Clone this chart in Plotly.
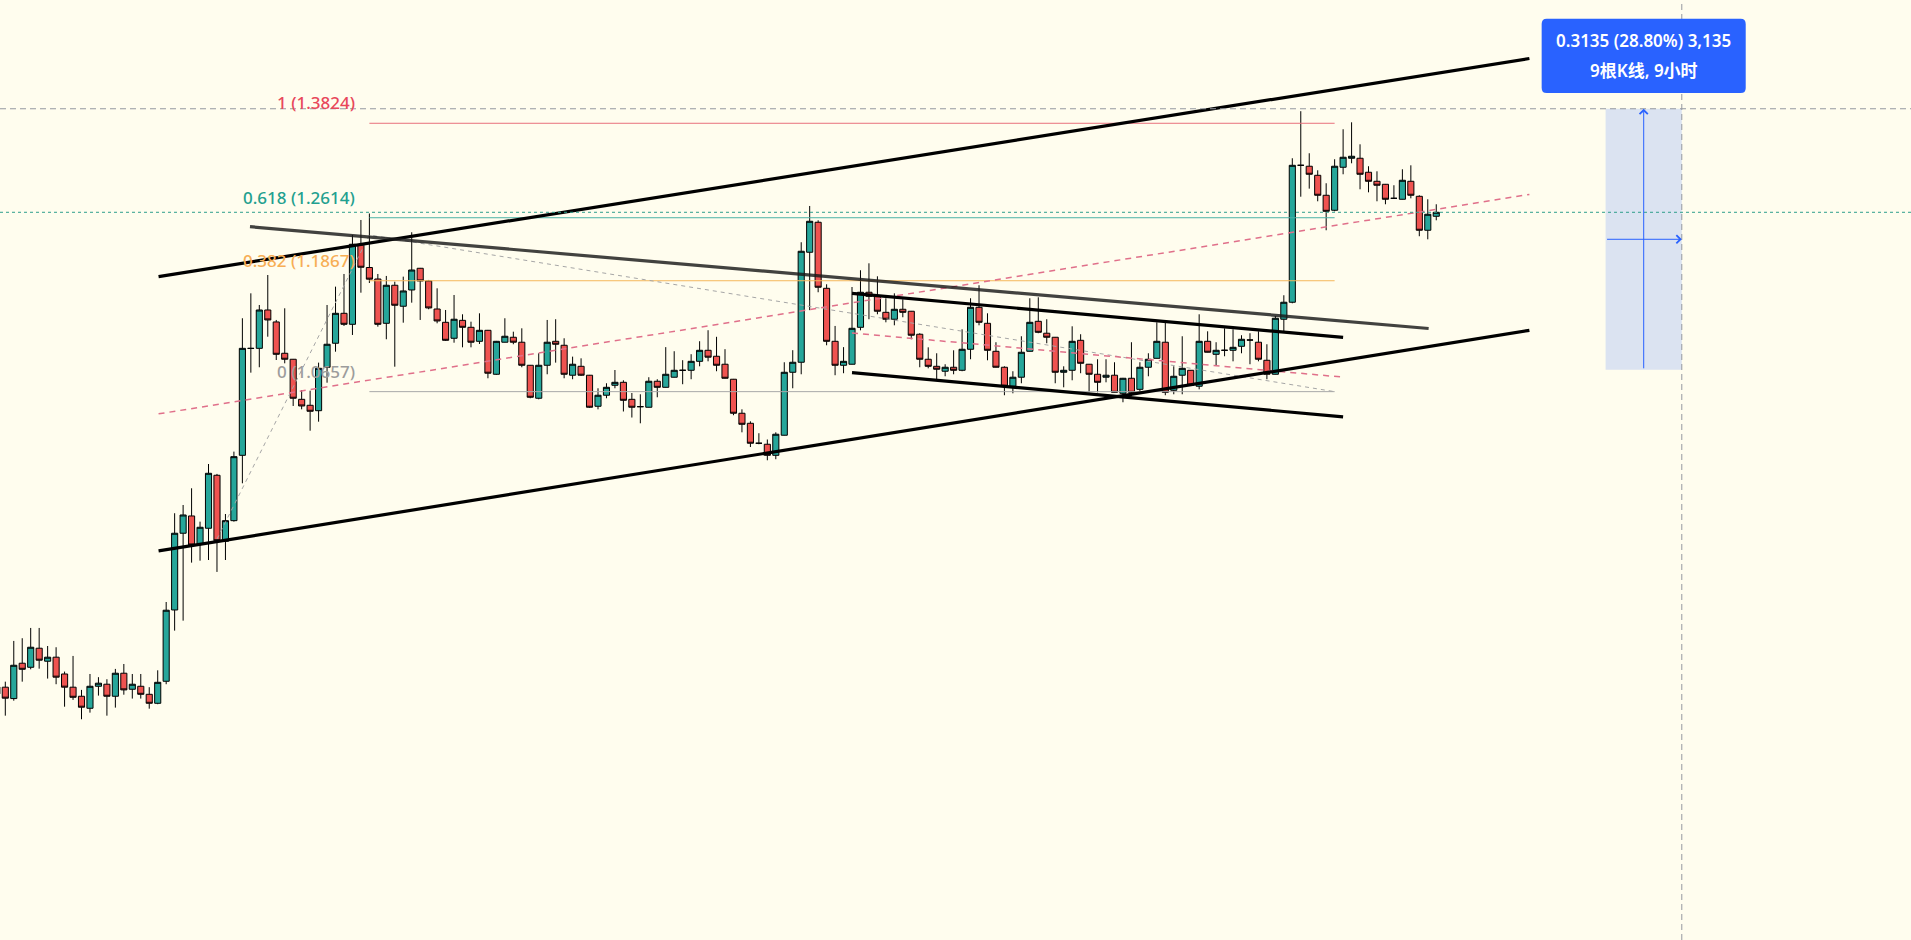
import math
import plotly.graph_objects as go

# hourly bars, index 0 = first full candle on the left edge
bars = list(range(-1, 170))
opens = [0.8004, 0.8002, 0.7914, 0.8190, 0.8158, 0.8310, 0.8206, 0.8238, 0.8105, 0.8002,
         0.7932, 0.7840, 0.8009, 0.8025, 0.7932, 0.8111, 0.7986, 0.8009, 0.7947, 0.7878,
         0.8048, 0.8624, 0.9290, 0.9447, 0.9194, 0.9335, 0.9827, 0.9218, 0.9404, 1.0019,
         1.1112, 1.1114, 1.1535, 1.1402, 1.1061, 1.0997, 1.0578, 1.0517, 1.0462, 1.0912,
         1.1169, 1.1498, 1.1376, 1.2286, 1.2020, 1.1887, 1.1387, 1.1815, 1.1577, 1.1761,
         1.2011, 1.1864, 1.1546, 1.1398, 1.1223, 1.1420, 1.1343, 1.1190, 1.1310, 1.0838,
         1.1180, 1.1234, 1.1180, 1.0933, 1.0589, 1.0933, 1.1190, 1.1147, 1.0828, 1.0922,
         1.0828, 1.0507, 1.0620, 1.0723, 1.0754, 1.0578, 1.0503, 1.0497, 1.0765, 1.0702,
         1.0807, 1.0880, 1.0880, 1.0975, 1.1093, 1.1029, 1.0944, 1.0786, 1.0436, 1.0335,
         1.0137, 1.0127, 1.0019, 1.0216, 1.0859, 1.0965, 1.2199, 1.2559, 1.1780, 1.1190,
         1.0933, 1.0944, 1.1343, 1.1735, 1.1689, 1.1509, 1.1432, 1.1543, 1.1521, 1.1267,
         1.0997, 1.0922, 1.0870, 1.0912, 1.0880, 1.1104, 1.1565, 1.1387, 1.1082, 1.0912,
         1.0713, 1.0807, 1.1082, 1.1409, 1.1278, 1.1234, 1.0859, 1.0880, 1.1201, 1.0944,
         1.0838, 1.0807, 1.0828, 1.0640, 1.0796, 1.0681, 1.0912, 1.1007, 1.1180, 1.0671,
         1.0828, 1.0880, 1.0713, 1.1190, 1.1050, 1.1093, 1.1093, 1.1136, 1.1204, 1.1180,
         1.0986, 1.0838, 1.1432, 1.1622, 1.3272, 1.3260, 1.3144, 1.2892, 1.2706, 1.3247,
         1.3363, 1.3363, 1.3183, 1.3068, 1.3030, 1.2854, 1.2842, 1.3068, 1.2879, 1.2462,
         1.2632]
highs = [0.8035, 0.8045, 0.8369, 0.8391, 0.8475, 0.8475, 0.8328, 0.8318, 0.8124, 0.8248,
         0.7981, 0.8105, 0.8080, 0.8064, 0.8145, 0.8184, 0.8105, 0.8105, 0.8002, 0.8134,
         0.8691, 0.9472, 0.9548, 0.9704, 0.9395, 0.9935, 0.9840, 0.9465, 1.0055, 1.1443,
         1.1723, 1.1591, 1.1933, 1.1424, 1.1554, 1.1000, 1.0674, 1.0667, 1.0961, 1.1591,
         1.1799, 1.1945, 1.2405, 1.2587, 1.2666, 1.1945, 1.1922, 1.1856, 1.1914, 1.2438,
         1.2015, 1.1876, 1.1780, 1.1535, 1.1704, 1.1487, 1.1405, 1.1498, 1.1314, 1.1194,
         1.1443, 1.1295, 1.1332, 1.0936, 1.1061, 1.1424, 1.1432, 1.1223, 1.1025, 1.1007,
         1.0831, 1.0692, 1.0744, 1.0883, 1.0775, 1.0643, 1.0630, 1.0807, 1.0786, 1.1127,
         1.1083, 1.0987, 1.1051, 1.1191, 1.1311, 1.1239, 1.1105, 1.0789, 1.0476, 1.0355,
         1.0236, 1.0174, 1.0245, 1.0965, 1.1094, 1.2318, 1.2759, 1.2583, 1.1826, 1.1358,
         1.1127, 1.1795, 1.1988, 1.2069, 1.1918, 1.1667, 1.1723, 1.1655, 1.1524, 1.1278,
         1.1125, 1.1061, 1.0944, 1.1093, 1.1321, 1.1667, 1.1815, 1.1498, 1.1180, 1.0922,
         1.0870, 1.1245, 1.1667, 1.1678, 1.1432, 1.1237, 1.0922, 1.1354, 1.1267, 1.0947,
         1.0997, 1.0997, 1.0965, 1.0800, 1.1180, 1.0965, 1.1061, 1.1398, 1.1398, 1.0922,
         1.1245, 1.0883, 1.1487, 1.1299, 1.1180, 1.1332, 1.1321, 1.1256, 1.1278, 1.1299,
         1.1158, 1.1468, 1.1701, 1.3363, 1.3987, 1.3428, 1.3208, 1.3043, 1.3350, 1.3744,
         1.3837, 1.3545, 1.3260, 1.3195, 1.3034, 1.3018, 1.3221, 1.3272, 1.2892, 1.2842,
         1.2780]
lows = [0.7904, 0.7784, 0.7898, 0.8045, 0.8142, 0.8147, 0.8069, 0.8025, 0.7852, 0.7904,
        0.7757, 0.7807, 0.7937, 0.7784, 0.7845, 0.7944, 0.7914, 0.7914, 0.7837, 0.7871,
        0.8025, 0.8453, 0.8535, 0.9029, 0.9046, 0.9052, 0.8948, 0.9052, 0.9395, 0.9751,
        1.0855, 1.0912, 1.1240, 1.0989, 1.0954, 1.0510, 1.0476, 1.0261, 1.0351, 1.0750,
        1.1078, 1.1358, 1.1259, 1.1730, 1.1841, 1.1350, 1.1212, 1.0918, 1.1394, 1.1617,
        1.1424, 1.1543, 1.1387, 1.1194, 1.1175, 1.1125, 1.1125, 1.1161, 1.0796, 1.0832,
        1.1178, 1.1158, 1.0912, 1.0589, 1.0578, 1.0838, 1.0961, 1.0796, 1.0786, 1.0820,
        1.0490, 1.0476, 1.0589, 1.0692, 1.0454, 1.0393, 1.0335, 1.0495, 1.0599, 1.0700,
        1.0805, 1.0734, 1.0786, 1.0922, 1.0975, 1.0870, 1.0794, 1.0416, 1.0245, 1.0100,
        1.0127, 0.9971, 0.9981, 1.0214, 1.0692, 1.0838, 1.1533, 1.1735, 1.1147, 1.0828,
        1.0849, 1.0942, 1.1310, 1.1432, 1.1487, 1.1398, 1.1365, 1.1454, 1.1212, 1.0912,
        1.0901, 1.0786, 1.0817, 1.0838, 1.0870, 1.0997, 1.1365, 1.0986, 1.0910, 1.0620,
        1.0640, 1.0744, 1.1080, 1.1278, 1.1169, 1.0744, 1.0702, 1.0775, 1.0849, 1.0650,
        1.0650, 1.0754, 1.0648, 1.0548, 1.0609, 1.0640, 1.0817, 1.1005, 1.0620, 1.0630,
        1.0630, 1.0721, 1.0681, 1.1070, 1.0933, 1.1029, 1.0975, 1.1061, 1.0944, 1.0975,
        1.0786, 1.0836, 1.1299, 1.1610, 1.2874, 1.2975, 1.2817, 1.2462, 1.2693, 1.3157,
        1.3298, 1.2967, 1.2929, 1.2817, 1.2780, 1.2846, 1.2840, 1.2854, 1.2390, 1.2353,
        1.2583]
closes = [0.7950, 0.7917, 0.8174, 0.8142, 0.8318, 0.8214, 0.8238, 0.8080, 0.8002, 0.7924,
          0.7848, 0.8009, 0.8033, 0.7932, 0.8111, 0.7981, 0.8025, 0.7947, 0.7878, 0.8040,
          0.8622, 0.9290, 0.9456, 0.9185, 0.9344, 0.9846, 0.9223, 0.9404, 1.0006, 1.1114,
          1.1114, 1.1535, 1.1424, 1.1050, 1.0997, 1.0589, 1.0510, 1.0456, 1.0901, 1.1158,
          1.1498, 1.1376, 1.2294, 1.2023, 1.1885, 1.1376, 1.1815, 1.1588, 1.1750, 1.1991,
          1.1864, 1.1558, 1.1413, 1.1201, 1.1432, 1.1343, 1.1180, 1.1310, 1.0849, 1.1190,
          1.1245, 1.1180, 1.0933, 1.0599, 1.0933, 1.1180, 1.1158, 1.0838, 1.0944, 1.0828,
          1.0497, 1.0620, 1.0702, 1.0754, 1.0568, 1.0497, 1.0503, 1.0765, 1.0702, 1.0838,
          1.0880, 1.0880, 1.0975, 1.1093, 1.1019, 1.0933, 1.0796, 1.0436, 1.0325, 1.0137,
          1.0137, 1.0019, 1.0226, 1.0859, 1.0965, 1.2211, 1.2571, 1.1792, 1.1190, 1.0933,
          1.0975, 1.1332, 1.1735, 1.1689, 1.1521, 1.1432, 1.1543, 1.1509, 1.1256, 1.0997,
          1.0922, 1.0891, 1.0912, 1.0880, 1.1104, 1.1565, 1.1398, 1.1093, 1.0912, 1.0713,
          1.0807, 1.1072, 1.1398, 1.1288, 1.1234, 1.0859, 1.0880, 1.1190, 1.0954, 1.0838,
          1.0754, 1.0828, 1.0650, 1.0796, 1.0650, 1.0912, 1.0997, 1.1190, 1.0650, 1.0817,
          1.0901, 1.0723, 1.1190, 1.1072, 1.1093, 1.1093, 1.1125, 1.1212, 1.1204, 1.0997,
          1.0838, 1.1443, 1.1622, 1.3272, 1.3272, 1.3157, 1.2892, 1.2693, 1.3260, 1.3376,
          1.3389, 1.3157, 1.3068, 1.3018, 1.2842, 1.2854, 1.3081, 1.2892, 1.2462, 1.2657,
          1.2681]

# trend based fib extension (points A, B, C) and its levels
fib_pts_x = [25, 43, 157]
fib_pts_y = [0.9238, 1.2405, 1.0657]
fib_levels = [1, 0.618, 0.382, 0]
fib_line_colors = ["#E8707C", "#4DB2A6", "#F5B85C", "#A8A8A8"]
fib_text_colors = ["#E8475A", "#23A08F", "#F7AE55", "#9C9C9C"]

# drawn trend lines: [bar, bar] / [price, price]
channel_x = [18.1, 180.0]
channel_top = [1.1914, 1.4720]
channel_bot = [0.9132, 1.1310]
channel_mid = [1.0430, 1.2903]
down_x = [28.9, 168.1]
down_y = [1.2505, 1.1330]
inner_x = [100, 158]
inner_top = [1.1723, 1.1232]
inner_bot = [1.0855, 1.0400]
inner_mid = [1.1281, 1.0808]

# measure tool + crosshair
measure_bars = [189, 198]
measure_prices = [1.0885, 1.4020]
cross_bar = 198
cross_price = 1.4020

bg = "#FFFDEE"
blue = "#2962FF"
fig = go.Figure()

# fib level lines under the candles
a, b, c = fib_pts_y
for lvl, lc in zip(fib_levels, fib_line_colors):
    price = c + lvl * (b - a)
    fig.add_trace(go.Scatter(x=[fib_pts_x[1], fib_pts_x[2]], y=[price, price], mode="lines",
                             line=dict(color=lc, width=1), hoverinfo="skip"))

fig.add_trace(go.Scatter(x=fib_pts_x, y=fib_pts_y, mode="lines",
                         line=dict(color="#A6A6A6", width=1, dash="4px,4px"), hoverinfo="skip"))
fig.add_trace(go.Scatter(x=channel_x, y=channel_mid, mode="lines",
                         line=dict(color="#E0708A", width=1.5, dash="6px,5px"), hoverinfo="skip"))
fig.add_trace(go.Scatter(x=inner_x, y=inner_mid, mode="lines",
                         line=dict(color="#E0708A", width=1.5, dash="6px,5px"), hoverinfo="skip"))

fig.add_trace(go.Candlestick(
    x=bars, open=opens, high=highs, low=lows, close=closes, whiskerwidth=0,
    increasing=dict(line=dict(color="#000000", width=1), fillcolor="#26A69A"),
    decreasing=dict(line=dict(color="#000000", width=1), fillcolor="#EF5350"),
    hoverinfo="skip"))

# trend lines on top
for ys in (channel_top, channel_bot):
    fig.add_trace(go.Scatter(x=channel_x, y=ys, mode="lines",
                             line=dict(color="#000000", width=3.2), hoverinfo="skip"))
fig.add_trace(go.Scatter(x=down_x, y=down_y, mode="lines",
                         line=dict(color="rgba(25,25,25,0.82)", width=3.2), hoverinfo="skip"))
for ys in (inner_top, inner_bot):
    fig.add_trace(go.Scatter(x=inner_x, y=ys, mode="lines",
                             line=dict(color="#000000", width=3.2), hoverinfo="skip"))

# fib labels
for lvl, tc in zip(fib_levels, fib_text_colors):
    price = c + lvl * (b - a)
    fig.add_annotation(x=fib_pts_x[1], y=math.log10(price), xref="x", yref="y",
                       text=f"{lvl:g} ({price:.4f})", showarrow=False,
                       xanchor="right", yanchor="bottom", xshift=-12, yshift=7,
                       font=dict(family="Noto Sans", size=17, color=tc, weight=500))

# current price line
fig.add_shape(type="line", xref="paper", x0=0, x1=1, yref="y", y0=closes[-1], y1=closes[-1],
              line=dict(color="#2E9E8C", width=1, dash="dot"))

# measure box
fig.add_shape(type="rect", xref="x", yref="y", x0=measure_bars[0], x1=measure_bars[1],
              y0=measure_prices[0], y1=measure_prices[1],
              fillcolor="rgba(41,98,255,0.17)", line=dict(width=0), layer="below")

# crosshair
fig.add_shape(type="line", xref="paper", x0=0, x1=1, yref="y", y0=cross_price, y1=cross_price,
              line=dict(color="#9598A1", width=1, dash="6px,4px"))
fig.add_shape(type="line", xref="x", x0=cross_bar, x1=cross_bar, yref="paper", y0=0, y1=1,
              line=dict(color="#9598A1", width=1, dash="6px,4px"))

mid_bar = (measure_bars[0] + measure_bars[1]) / 2
mid_log = (math.log10(measure_prices[0]) + math.log10(measure_prices[1])) / 2
fig.add_annotation(x=mid_bar, y=math.log10(measure_prices[1]), ax=mid_bar,
                   ay=math.log10(measure_prices[0]), xref="x", yref="y", axref="x", ayref="y",
                   showarrow=True, arrowhead=4, arrowsize=1.6, arrowwidth=1, arrowcolor=blue,
                   text="", standoff=0)
fig.add_annotation(x=measure_bars[1], y=mid_log, ax=measure_bars[0], ay=mid_log,
                   xref="x", yref="y", axref="x", ayref="y",
                   showarrow=True, arrowhead=4, arrowsize=1.6, arrowwidth=1, arrowcolor=blue,
                   text="", standoff=0)

# rounded label box above the measure
hw, rx = 12.05, 0.6
yb, yt, ry = 0.901, 0.980, 0.0055
x0, x1 = mid_bar - hw, mid_bar + hw
box_path = (f"M{x0 + rx},{yb} L{x1 - rx},{yb} Q{x1},{yb} {x1},{yb + ry} "
            f"L{x1},{yt - ry} Q{x1},{yt} {x1 - rx},{yt} L{x0 + rx},{yt} "
            f"Q{x0},{yt} {x0},{yt - ry} L{x0},{yb + ry} Q{x0},{yb} {x0 + rx},{yb} Z")
fig.add_shape(type="path", xref="x", yref="paper", path=box_path,
              fillcolor=blue, line=dict(width=0))

diff = measure_prices[1] - measure_prices[0]
pct = diff / measure_prices[0] * 100
nbars = measure_bars[1] - measure_bars[0]
label_lines = [f"{diff:.4f} ({pct:.2f}%) {round(diff * 10000):,}", f"{nbars}根K线, {nbars}小时"]
for txt, ypos in zip(label_lines, [0.9567, 0.9255]):
    fig.add_annotation(x=mid_bar, y=ypos, xref="x", yref="paper", text=txt, showarrow=False,
                       xanchor="center", yanchor="middle",
                       font=dict(family="Noto Sans, Noto Sans CJK SC", size=17, color="#FFFFFF",
                                 weight=600))

fig.update_layout(
    width=1911, height=940, margin=dict(l=0, r=0, t=0, b=0),
    paper_bgcolor=bg, plot_bgcolor=bg, showlegend=False, hovermode=False,
    boxgap=0.15, boxgroupgap=0.15,
    xaxis=dict(visible=False, range=[-0.626, 225.07], rangeslider=dict(visible=False)),
    yaxis=dict(visible=False, type="log", range=[-0.20325, 0.19254]),
)

fig.write_html("out.html", config={"displayModeBar": False},
               post_script="document.body.style.margin='0';document.body.style.overflow='hidden';")
